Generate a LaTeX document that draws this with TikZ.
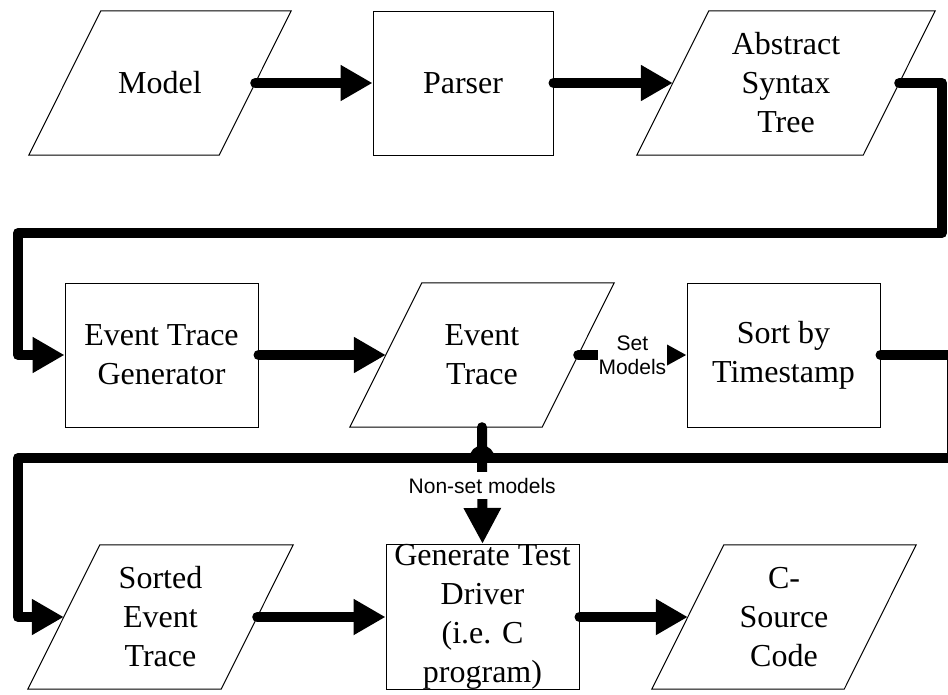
\documentclass[tikz,border=0pt]{standalone}
\usepackage{fontspec}
\setmainfont{Liberation Serif}
\setsansfont{Liberation Sans}
\usetikzlibrary{arrows.meta,calc}
\begin{document}
\begin{tikzpicture}[x=1pt,y=-1pt,
  boxtext/.style={inner sep=0pt, minimum height=144pt, align=center,
    font=\fontsize{32}{39}\selectfont},
  rectbox/.style={boxtext, draw=black, line width=1pt},
  parabox/.style={boxtext},
  conn/.style={line width=10pt, line cap=round, line join=round,
    -{Triangle[length=32pt,width=34pt]}},
  lbl/.style={font=\sffamily\fontsize{21}{24}\selectfont, fill=white, align=center}
]
\useasboundingbox (0,0) rectangle (948,694);

% row 1
\node[parabox, minimum width=190pt] (model) at (160,83) {Model};
\node[rectbox, minimum width=180pt] (parser) at (463,83) {Parser};
\node[parabox, minimum width=226pt] (ast) at (786,83) {Abstract\\Syntax\\Tree};
% row 2
\node[rectbox, minimum width=193pt] (etg) at (161.5,355) {Event Trace\\Generator};
\node[parabox, minimum width=192pt] (etrace) at (482,355) {Event\\Trace};
\node[rectbox, minimum width=193pt] (sort) at (783.5,355) {Sort by\\Timestamp};
% row 3
\node[parabox, minimum width=193pt] (sorted) at (160.5,617) {Sorted\\Event\\Trace};
\node[rectbox, minimum width=193pt, minimum height=143pt] (gen) at (482.5,617) {Generate Test\\Driver\\(i.e. C\\program)};
\node[parabox, minimum width=192pt] (csrc) at (784,617) {C-\\Source\\Code};

% parallelogram outlines
\foreach \n in {model,ast,etrace,sorted,csrc}
  \draw[line width=1pt, line join=miter]
    ($(\n.north west)+(36,0)$) -- ($(\n.north east)+(36,0)$) --
    ($(\n.south east)+(-36,0)$) -- ($(\n.south west)+(-36,0)$) -- cycle;

% corner coordinates of the loops
\coordinate (c1) at (942,233);
\coordinate (c2) at (18,233);
\coordinate (c3) at (952,458);
\coordinate (c4) at (18,458);

% connectors
\draw[conn] (model.east) -- (parser.west);
\draw[conn] (parser.east) -- (ast.west);
\draw[conn] (ast.east) -| (c1) -- (c2) |- (etg.west);
\draw[conn] (etg.east) -- (etrace.west);
\draw[line width=10pt, line cap=round, -{Triangle[length=20pt,width=20pt]}]
  (etrace.east) -- node[lbl, inner xsep=1pt, inner ysep=2pt] {Set\\Models} (sort.west);
\draw[conn] (sort.east) -| (c3) -- (c4) |- (sorted.west);
\draw[conn, -{Triangle[length=36pt,width=35pt]}]
  (etrace.south) -- node[lbl, inner xsep=1pt, inner ysep=6pt] {Non-set models} (gen.north);
\fill (469.5,458) arc[start angle=180, end angle=360, radius=12.5] -- cycle;
\draw[conn] (sorted.east) -- (gen.west);
\draw[conn] (gen.east) -- (csrc.west);
\end{tikzpicture}
\end{document}
